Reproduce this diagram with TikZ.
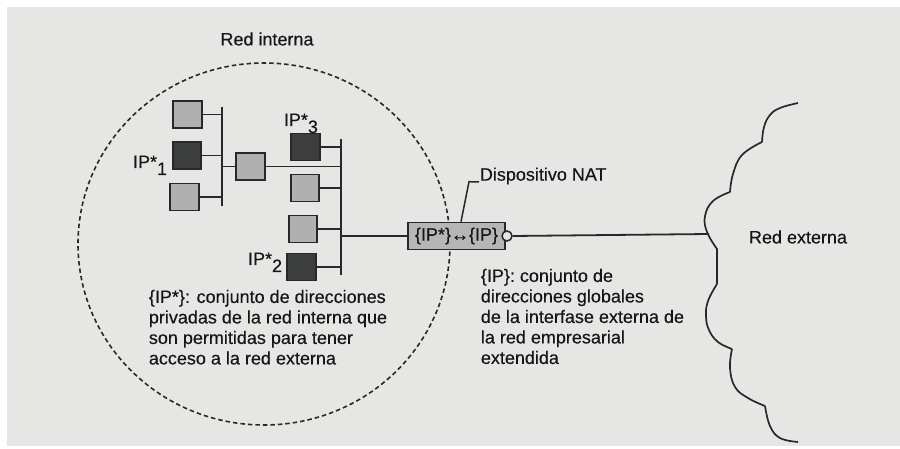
\documentclass[tikz,border=0pt]{standalone}
\usepackage{fontspec}
\setmainfont{Liberation Sans}[FakeBold=0.35]
\begin{document}
\begin{tikzpicture}[x=1pt,y=-1pt,
  line width=1.8pt,
  every node/.style={text=txtc},
  host/.style={draw=linec, line width=1.6pt, minimum width=28.5pt, minimum height=27pt, inner sep=0pt},
  lbox/.style={host, fill=lightc},
  dbox/.style={host, fill=darkc},
  natbox/.style={draw=linec, line width=1.6pt, fill=natc, minimum width=97pt, minimum height=27pt, inner sep=0pt, font=\fontsize{18}{20.5}\selectfont},
  lbl/.style={inner sep=0pt, font=\fontsize{18}{20.5}\selectfont},
  wire/.style={draw=linec, line width=1.8pt},
]
\definecolor{bgc}{RGB}{230,230,228}
\definecolor{linec}{RGB}{40,40,40}
\definecolor{txtc}{RGB}{22,22,22}
\definecolor{lightc}{RGB}{176,176,176}
\definecolor{darkc}{RGB}{60,62,62}
\definecolor{natc}{RGB}{182,182,182}
\useasboundingbox (0,0) rectangle (900,449);
\fill[white] (0,0) rectangle (900,449);
\fill[bgc] (7,7) rectangle (900,446);

% internal network boundary
\draw[linec, line width=1.6pt, dash pattern=on 4.5pt off 3pt] (264,244) ellipse [x radius=186, y radius=181];
\node[lbl] (rin) at (267,39) {Red interna};

% buses
\coordinate (b1t) at (222,107);
\coordinate (b1b) at (222,206);
\coordinate (b2t) at (341,139);
\coordinate (b2b) at (341,275);
\draw[wire] (b1t) -- (b1b);
\draw[wire] (b2t) -- (b2b);

% hosts
\node[lbox] (A) at (187.5,114.5) {};
\node[dbox] (B) at (187,155.5) {};
\node[lbox] (C) at (184.5,197) {};
\node[lbox] (D) at (250.5,166.5) {};
\node[dbox] (E) at (305.5,147) {};
\node[lbox] (F) at (305,188) {};
\node[lbox] (G) at (303,229) {};
\node[dbox] (H) at (301.5,267) {};

\draw[wire] (A.east) -- (A.east -| b1t);
\draw[wire] (B.east) -- (B.east -| b1t);
\draw[wire] (C.east) -- (C.east -| b1t);
\draw[wire] (D.west -| b1t) -- (D.west);
\draw[wire] (D.east) -- (D.east -| b2t);
\draw[wire] (E.east) -- (E.east -| b2t);
\draw[wire] (F.east) -- (F.east -| b2t);
\draw[wire] (G.east) -- (G.east -| b2t);
\draw[wire] (H.east) -- (H.east -| b2t);

% labels
\node[lbl, anchor=base east] (ip1) at (168,168) {IP*\raisebox{-7pt}{1}};
\node[lbl, anchor=base west] (ip3) at (283,126) {IP*\raisebox{-7pt}{3}};
\node[lbl, anchor=base east] (ip2) at (283,265) {IP*\raisebox{-7pt}{2}};

% NAT device
\node[natbox] (nat) at (456.5,236) {\{IP*\}↔\{IP\}};
\node[draw=linec, line width=1.5pt, fill=bgc, circle, minimum size=10pt, inner sep=0pt] (port) at (507,236) {};
\draw[wire] (nat.west -| b2t) -- (nat.west);

\node[lbl, anchor=west] (dn) at (479,176) {Dispositivo NAT};
\draw[wire, line width=1.5pt] ([xshift=4.5pt]nat.north) -- ++(8,-40) -- (dn.west |- 0,182);

% external network cloud
\coordinate (cl) at (709,234);
\draw[wire] (port.east) -- (cl);
\draw[linec, line width=1.7pt]
  plot[smooth, tension=0.7] coordinates {(798,103) (780,108) (770,115) (764,127) (762,142)}
  plot[smooth, tension=0.7] coordinates {(762,142) (742,155) (733,174) (730,192)}
  plot[smooth, tension=0.7] coordinates {(730,192) (713,201) (705,216) (707,232) (717,249)}
  -- (717,284)
  plot[smooth, tension=0.7] coordinates {(717,284) (708,301) (706,316) (709,330) (718,342) (732,349)}
  plot[smooth, tension=0.7] coordinates {(732,349) (730,368) (735,387) (748,398) (765,406)}
  plot[smooth, tension=0.7] coordinates {(765,406) (770,426) (780,438) (798,442)};
\node[lbl] (rex) at (798,237) {Red externa};

% descriptions
\node[lbl, anchor=north west, align=left] (dint) at (148,289)
  {\{IP*\}: conjunto de direcciones\\privadas de la red interna que\\son permitidas para tener\\acceso a la red externa};
\node[lbl, anchor=north west, align=left] (dext) at (480,268)
  {\{IP\}: conjunto de\\direcciones globales\\de la interfase externa de\\la red empresarial\\extendida};
\end{tikzpicture}
\end{document}
